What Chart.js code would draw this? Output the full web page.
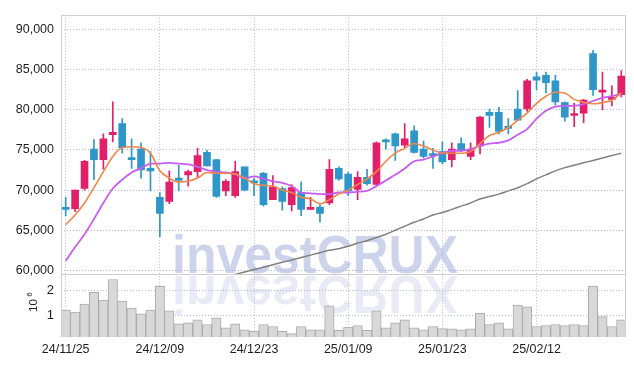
<!DOCTYPE html>
<html><head><meta charset="utf-8">
<script src="https://cdn.jsdelivr.net/npm/chart.js@4.4.1/dist/chart.umd.min.js"></script>
<style>html,body{margin:0;padding:0;background:#fff;}canvas{display:block;}</style>
</head><body>
<canvas id="c" width="634" height="366"></canvas>
<script>
const dates = ['24/11/25','24/11/26','24/11/27','24/11/28','24/11/29','24/12/02','24/12/03','24/12/04','24/12/05','24/12/06',
'24/12/09','24/12/10','24/12/11','24/12/12','24/12/13','24/12/16','24/12/17','24/12/18','24/12/19','24/12/20',
'24/12/23','24/12/24','24/12/26','24/12/27','24/12/30','25/01/02','25/01/03','25/01/06','25/01/07','25/01/08',
'25/01/09','25/01/10','25/01/13','25/01/14','25/01/15','25/01/16','25/01/17','25/01/20','25/01/21','25/01/22',
'25/01/23','25/01/24','25/01/31','25/02/03','25/02/04','25/02/05','25/02/06','25/02/07','25/02/10','25/02/11',
'25/02/12','25/02/13','25/02/14','25/02/17','25/02/18','25/02/19','25/02/20','25/02/21','25/02/24','25/02/25'];

const openP = [67700,67700,70200,75100,73800,76900,78300,74000,75100,72700,
69100,68600,71500,71900,72300,74700,73800,69900,69300,72900,
71100,72100,68800,70200,68200,69700,67600,67900,68400,72700,
72000,70100,71600,70700,76200,77000,75600,77400,75100,74500,
74800,73800,75800,74200,75500,79700,79700,77800,80100,80100,
84100,84300,83600,80900,79300,79600,87000,82200,81300,81900];
const closeP = [67600,70000,73600,73800,76400,77200,75300,73800,72500,72400,
67100,71000,71200,72300,74300,73000,69200,71100,72300,70000,
70900,68200,70400,68600,70300,67600,67800,67100,72600,71400,
69900,71600,70800,75900,76000,75500,76400,74700,74200,74300,
73500,75100,75000,75100,79100,79300,77300,77700,78700,83600,
83700,83400,81000,79100,79500,81200,82500,82400,81400,84200];
const highP = [69100,70000,73700,76300,77000,81000,78900,76400,75900,74800,
69700,72400,73100,72500,75200,75000,73800,71300,73600,72900,
71500,72200,71800,70400,70700,71000,69100,68200,73800,72900,
72200,72300,72600,76000,76400,77100,78300,78000,76100,75200,
76000,75900,76500,75900,79200,80100,80300,78900,82400,83800,
84700,84700,84300,81000,80800,81300,87400,84700,83000,84900];
const lowP = [66800,67300,70000,71300,72600,76000,74600,72700,71500,69900,
64200,68300,69900,70500,71600,73000,69100,69300,69100,69900,
69300,68000,68800,67500,67400,66800,67600,66000,68200,71200,
69300,68800,70600,70600,75100,73700,75300,74600,74000,72700,
73300,72900,74800,73800,74500,77800,77000,77000,78700,79800,
82500,82100,80600,78600,77900,78400,81800,80000,80500,81600];

const ma5 = [65700,66900,68400,70300,72300,74200,75300,75400,75300,74600,
72400,71500,71000,71100,71500,72200,72100,72100,72000,71500,
70800,70600,70500,70000,69700,69100,68900,68300,68800,69500,
70000,70700,71400,72300,73600,74600,75200,75800,75500,75000,
74600,74600,74600,74800,75800,76800,77200,77800,78700,79600,
80800,81700,82200,82100,81300,80950,80750,80900,81200,82100];
const ma20 = [61200,62900,64500,66400,68400,70200,71300,72200,72700,73300,
73300,73400,73300,73200,72900,72500,72300,72200,72000,71500,
71700,71400,71100,70900,70500,69700,69600,69500,69500,69700,
69700,69800,69900,70500,71200,71900,72700,73600,73800,74200,
74600,74900,74900,75100,75500,75800,75900,76200,76900,77600,
78900,79900,80400,80500,80500,80700,81100,81500,81700,82000];
const maLong = [null,null,null,null,null,null,null,null,null,null,
null,null,null,null,null,null,null,null,59500,59800,
60100,60400,60700,61000,61300,61600,61900,62200,62500,62700,
63000,63400,63700,64100,64500,65000,65500,66000,66400,66900,
67200,67600,68000,68400,68900,69200,69500,69900,70300,70800,
71400,71900,72400,72800,73100,73400,73700,74000,74300,74600];
const volume = [1.22,1.14,1.46,1.92,1.62,2.43,1.58,1.30,1.07,1.22,
2.16,1.19,0.68,0.72,0.83,0.65,0.91,0.52,0.68,0.44,
0.39,0.65,0.57,0.38,0.29,0.57,0.44,0.44,1.39,0.42,
0.55,0.61,0.42,1.19,0.52,0.72,0.83,0.52,0.44,0.57,
0.49,0.48,0.44,0.48,1.10,0.65,0.72,0.48,1.42,1.35,
0.57,0.61,0.65,0.61,0.65,0.61,2.17,0.96,0.57,0.83];

const priceTicks = [60000,65000,70000,75000,80000,85000,90000];
const volTicks = [1,2];
const labelEvery = 10;

const UP = '#e2206a', DOWN = '#2f96c9';
const GRID = '#b4bad6';
const TXT = '#1e1e1e';
const FONT = '"Liberation Sans", Arial, sans-serif';
Chart.defaults.font.family = FONT;

const candleColor = openP.map((o,i) => closeP[i] >= o ? UP : DOWN);
const bodies = openP.map((o,i) => [o, closeP[i]]);
const wicks = lowP.map((l,i) => [l, highP[i]]);

const panelPlugin = {
  id: 'panel',
  beforeDatasetsDraw(chart) {
    const ctx = chart.ctx, y = chart.scales.y;
    const text = 'investCRUX';
    ctx.save();
    ctx.font = 'bold 53px ' + FONT;
    const w = ctx.measureText(text).width;
    ctx.translate(172, y.bottom - 1);
    ctx.scale(286 / w, 1);
    ctx.textBaseline = 'alphabetic';
    ctx.fillStyle = 'rgba(145,158,210,0.45)';
    ctx.fillText(text, 0, 0);
    ctx.scale(1, -1);
    ctx.translate(0, -3);
    ctx.fillStyle = 'rgba(160,170,215,0.24)';
    ctx.fillText(text, 0, 0);
    ctx.restore();
  },
  afterDraw(chart) {
    const ctx = chart.ctx, a = chart.chartArea, y = chart.scales.y;
    ctx.save();
    ctx.strokeStyle = '#cfcfcf';
    ctx.lineWidth = 1;
    ctx.beginPath();
    const L = Math.round(a.left) + 0.5, R = Math.round(a.right) - 0.5;
    const T = Math.round(a.top) + 0.5, B = Math.round(a.bottom);
    ctx.moveTo(L, B); ctx.lineTo(L, T); ctx.lineTo(R, T); ctx.lineTo(R, B);
    const S = Math.round(y.bottom) + 0.5;
    ctx.moveTo(L, S); ctx.lineTo(R, S);
    ctx.stroke();
    ctx.fillStyle = TXT;
    ctx.translate(37, 312);
    ctx.rotate(-Math.PI / 2);
    ctx.font = '11.5px ' + FONT;
    ctx.textBaseline = 'alphabetic';
    ctx.fillText('10', 0, 0);
    const tw = ctx.measureText('10').width;
    ctx.font = '8px ' + FONT;
    ctx.fillText('6', tw + 2.5, -5);
    ctx.restore();
  }
};

new Chart(document.getElementById('c'), {
  type: 'bar',
  data: {
    labels: dates,
    datasets: [
      { type: 'line', data: ma5, yAxisID: 'y', borderColor: '#f0874a', borderWidth: 1.6, pointRadius: 0, cubicInterpolationMode: 'monotone', order: 1 },
      { type: 'line', data: ma20, yAxisID: 'y', borderColor: '#c95cf0', borderWidth: 1.8, pointRadius: 0, cubicInterpolationMode: 'monotone', order: 2 },
      { type: 'line', data: maLong, yAxisID: 'y', borderColor: '#808080', borderWidth: 1.5, pointRadius: 0, cubicInterpolationMode: 'monotone', order: 3 },
      { type: 'bar', data: bodies, yAxisID: 'y', backgroundColor: candleColor, barThickness: 7, minBarLength: 2, grouped: false, order: 5 },
      { type: 'bar', data: wicks, yAxisID: 'y', backgroundColor: candleColor, barThickness: 1, grouped: false, order: 6 },
      { type: 'bar', data: volume, yAxisID: 'yVol', backgroundColor: '#d8d8d8', borderColor: '#ababab', borderWidth: 1, barPercentage: 1, categoryPercentage: 1, grouped: false, order: 10 }
    ]
  },
  options: {
    responsive: false,
    animation: false,
    events: [],
    layout: { padding: { left: 0, right: 8, top: 9, bottom: 0 } },
    plugins: { legend: { display: false }, tooltip: { enabled: false } },
    scales: {
      x: {
        type: 'category', offset: true,
        grid: { offset: false, drawTicks: false, color: (c) => (c.index % labelEvery === 0 ? GRID : 'rgba(0,0,0,0)') },
        border: { display: false, dash: [1, 2] },
        ticks: { autoSkip: false, maxRotation: 0, minRotation: 0, padding: 5, color: TXT, font: { size: 12.5 },
          callback: (v, i) => (i % labelEvery === 0 ? dates[i] : '') },
        afterFit: (s) => { s.height = 29; }
      },
      yVol: {
        position: 'left', stack: 'main', stackWeight: 64,
        min: 0.156, max: 2.646,
        afterBuildTicks: (s) => { s.ticks = volTicks.map(v => ({ value: v })); },
        grid: { color: GRID, drawTicks: false },
        border: { display: false, dash: [1, 2] },
        ticks: { padding: 7, color: TXT, font: { size: 13 }, callback: (v) => String(v) },
        afterFit: (s) => { s.width = 61; }
      },
      y: {
        position: 'left', stack: 'main', stackWeight: 263.4,
        min: 59546, max: 91840,
        afterBuildTicks: (s) => { s.ticks = priceTicks.map(v => ({ value: v })); },
        grid: { color: GRID, drawTicks: false },
        border: { display: false, dash: [1, 2] },
        ticks: { padding: 7, color: TXT, font: { size: 12.5 }, callback: (v) => v.toLocaleString('en-US') },
        afterFit: (s) => { s.width = 61; }
      }
    }
  },
  plugins: [panelPlugin]
});
</script>
</body></html>
